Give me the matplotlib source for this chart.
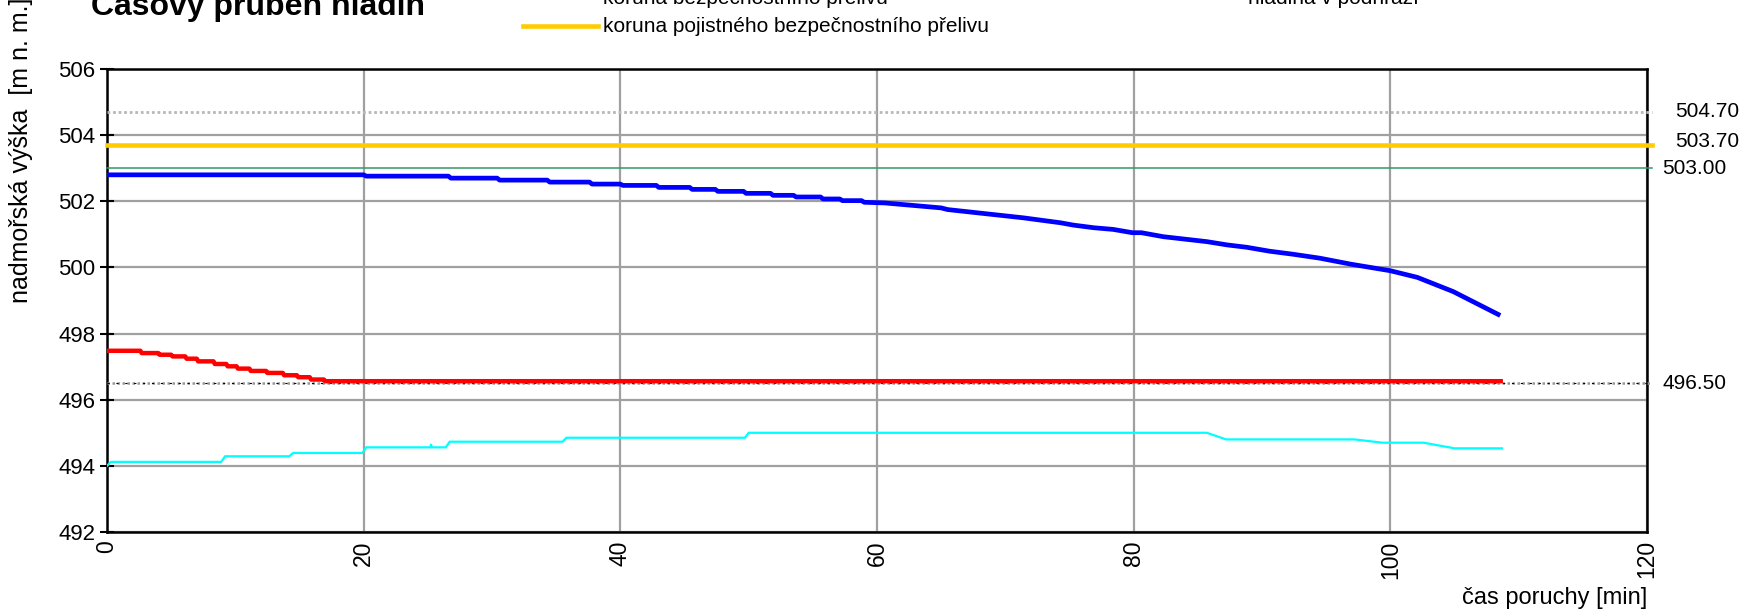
import matplotlib.pyplot as plt
from matplotlib.lines import Line2D

plt.rcParams['font.family'] = ['Liberation Sans', 'DejaVu Sans']

# hladina v nadrzi (modra)
blue_t = [0, 20.0, 20.2, 26.6, 26.8, 30.4, 30.6, 34.3, 34.5, 37.6, 37.8, 40.0, 40.2,
          42.8, 43.0, 45.4, 45.6, 47.4, 47.6, 49.6, 49.8, 51.7, 51.9, 53.5, 53.7,
          55.6, 55.8, 57.1, 57.3, 58.8, 59.0, 60.6, 65.0, 65.5, 71.4, 74.3, 75.3,
          76.9, 78.4, 79.9, 80.6, 82.3, 85.7, 87.3, 88.8, 90.6, 92.4, 94.5, 96.9,
          100.0, 102.1, 104.9, 108.4]
blue_h = [502.80, 502.80, 502.76, 502.76, 502.70, 502.70, 502.64, 502.64, 502.58,
          502.58, 502.52, 502.52, 502.48, 502.48, 502.42, 502.42, 502.36, 502.36,
          502.30, 502.30, 502.24, 502.24, 502.18, 502.18, 502.13, 502.13, 502.07,
          502.07, 502.02, 502.02, 501.97, 501.95, 501.80, 501.75, 501.50, 501.35,
          501.28, 501.20, 501.15, 501.05, 501.05, 500.93, 500.78, 500.68, 500.61,
          500.49, 500.40, 500.28, 500.10, 499.90, 499.70, 499.27, 498.58]

# cervena
red_t = [0, 2.6, 2.7, 4.0, 4.1, 5.0, 5.1, 6.1, 6.2, 7.0, 7.1, 8.3, 8.4, 9.3, 9.4,
         10.1, 10.2, 11.1, 11.2, 12.4, 12.5, 13.7, 13.8, 14.8, 14.9, 15.8, 15.9,
         16.9, 17.0, 108.6]
red_h = [497.48, 497.48, 497.41, 497.41, 497.36, 497.36, 497.31, 497.31, 497.24,
         497.24, 497.16, 497.16, 497.08, 497.08, 497.01, 497.01, 496.94, 496.94,
         496.87, 496.87, 496.81, 496.81, 496.74, 496.74, 496.68, 496.68, 496.61,
         496.61, 496.56, 496.56]

# hladina v podhrazi
cyan_t = [0, 0.3, 8.9, 9.2, 14.2, 14.5, 19.9, 20.2, 25.2, 25.25, 25.3, 26.4, 26.7,
          35.5, 35.8, 49.7, 50.0, 85.7, 87.2, 97.2, 99.4, 102.6, 105.0, 108.7]
cyan_h = [494.00, 494.12, 494.12, 494.29, 494.29, 494.39, 494.39, 494.56, 494.56,
          494.64, 494.56, 494.56, 494.73, 494.73, 494.85, 494.85, 495.00, 495.00,
          494.80, 494.80, 494.70, 494.70, 494.53, 494.53]

# konstantni urovne
crest_top = 504.70
crest_safety = 503.70
crest_spill = 503.00
bottom_level = 496.50

legend_labels = ["koruna bezpečnostního přelivu",
                 "koruna pojistného bezpečnostního přelivu",
                 "hladina v podhrází"]

fig = plt.figure(figsize=(17.4, 6.11), dpi=100)
ax = fig.add_axes([107 / 1740, 79 / 611, 1540 / 1740, 463 / 611])

x_end = 120.4
ax.plot([0, x_end], [crest_top, crest_top], color="#b8b8b8", lw=2.0,
        ls=(0, (1, 1)), clip_on=False, zorder=3)
ax.plot([0, x_end], [crest_safety, crest_safety], color="#ffcc00", lw=3.3,
        clip_on=False, zorder=3)
ax.plot([0, x_end], [crest_spill, crest_spill], color="#339966", lw=1.1,
        clip_on=False, zorder=3)
ax.plot([0, x_end], [bottom_level, bottom_level], color="#999999", lw=1.8,
        ls=(0, (1, 1)), clip_on=False, zorder=3)
ax.plot([0, x_end], [bottom_level, bottom_level], color="black", lw=0.8,
        ls=(0, (2, 6)), clip_on=False, zorder=3)

ax.plot(cyan_t, cyan_h, color="#00ffff", lw=1.6, zorder=4)
ax.plot(red_t, red_h, color="#ff0000", lw=3.2, zorder=4)
ax.plot(blue_t, blue_h, color="#0000ff", lw=3.4, zorder=4)

ax.text(122.2, crest_top, "504.70", fontsize=15, va="center", ha="left")
ax.text(122.2, crest_safety + 0.1, "503.70", fontsize=15, va="center", ha="left")
ax.text(121.2, crest_spill, "503.00", fontsize=15, va="center", ha="left")
ax.text(121.2, bottom_level, "496.50", fontsize=15, va="center", ha="left")

ax.set_xlim(0, 120)
ax.set_ylim(492, 506)
ax.set_xticks(range(0, 121, 20))
ax.set_yticks(range(492, 507, 2))
ax.tick_params(axis="x", labelsize=16.5, labelrotation=90, length=0, pad=6)
ax.tick_params(axis="y", labelsize=16, direction="inout", length=10, width=1.5)
ax.grid(color="#a0a0a0", lw=1.6)
ax.set_axisbelow(True)
for s in ax.spines.values():
    s.set_linewidth(1.8)
    s.set_color("black")

fig.text(1647 / 1740, 1 - 598 / 611, "čas poruchy [min]", fontsize=17,
         ha="right", va="center")
fig.text(21 / 1740, 1 - 303 / 611, "nadmořská výška  [m n. m.]", fontsize=18,
         rotation=90, ha="center", va="bottom")
fig.text(91 / 1740, 1 - 15 / 611, "Časový průběh hladin", fontsize=23,
         fontweight="bold", ha="left", va="baseline")

# legenda (horni cast orizla)
rows_y = [1 + 2 / 611, 1 - 26 / 611]
leg_colors = ["#339966", "#ffcc00", "#00ffff"]
leg_widths = [1.1, 3.3, 1.6]
leg_pos = [(523, rows_y[0]), (523, rows_y[1]), (1168, rows_y[0])]
for lab, c, w, (x0, y0) in zip(legend_labels, leg_colors, leg_widths, leg_pos):
    fig.add_artist(Line2D([x0 / 1740, (x0 + 75) / 1740], [y0, y0],
                          color=c, lw=w, transform=fig.transFigure))
    fig.text((x0 + 80) / 1740, y0, lab, fontsize=15, ha="left", va="center")

fig.savefig("out.png", dpi=100)
